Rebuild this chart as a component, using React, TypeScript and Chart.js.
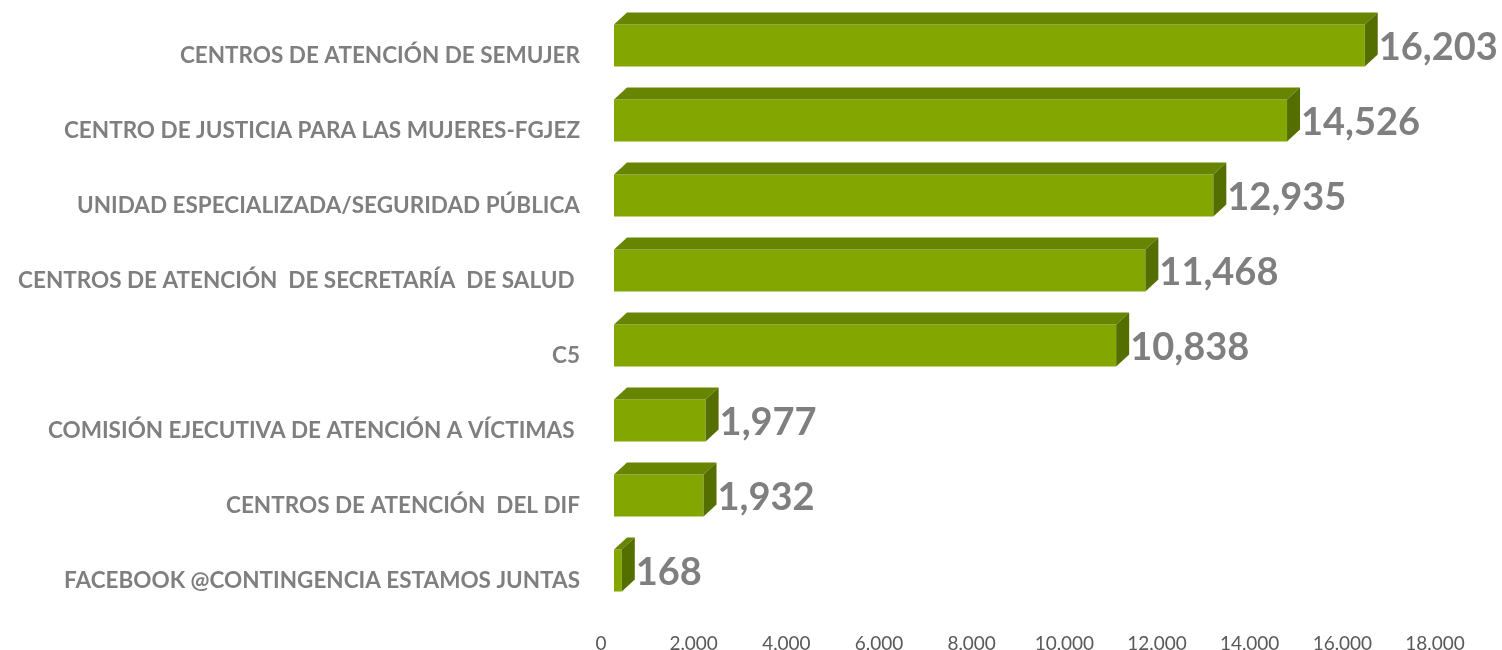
import React, { useEffect, useRef } from "react";
import { Chart, registerables } from "chart.js";

Chart.register(...registerables);

const categories = [
  "CENTROS DE ATENCIÓN DE SEMUJER",
  "CENTRO DE JUSTICIA PARA LAS MUJERES-FGJEZ",
  "UNIDAD ESPECIALIZADA/SEGURIDAD PÚBLICA",
  "CENTROS DE ATENCIÓN  DE SECRETARÍA  DE SALUD ",
  "C5",
  "COMISIÓN EJECUTIVA DE ATENCIÓN A VÍCTIMAS ",
  "CENTROS DE ATENCIÓN  DEL DIF",
  "FACEBOOK @CONTINGENCIA ESTAMOS JUNTAS",
];
const values = [16203, 14526, 12935, 11468, 10838, 1977, 1932, 168];
const axisMin = 0;
const axisMax = 18000;
const axisStep = 2000;

const FRONT = "#84A600";
const TOP = "#678500";
const SIDE = "#556E00";
const DX = 13;
const DY = 12;

const bar3d = {
  id: "bar3d",
  afterDatasetsDraw(chart: any) {
    const ctx = chart.ctx;
    const meta = chart.getDatasetMeta(0);
    meta.data.forEach((el: any, i: number) => {
      const { x, y, base, height } = el.getProps(["x", "y", "base", "height"], true);
      const top = y - height / 2;
      const bottom = y + height / 2;
      ctx.save();
      ctx.fillStyle = TOP;
      ctx.beginPath();
      ctx.moveTo(base, top);
      ctx.lineTo(x, top);
      ctx.lineTo(x + DX, top - DY);
      ctx.lineTo(base + DX, top - DY);
      ctx.closePath();
      ctx.fill();
      ctx.fillStyle = SIDE;
      ctx.beginPath();
      ctx.moveTo(x, top);
      ctx.lineTo(x + DX, top - DY);
      ctx.lineTo(x + DX, bottom - DY);
      ctx.lineTo(x, bottom);
      ctx.closePath();
      ctx.fill();
      ctx.fillStyle = "#7F7F7F";
      ctx.font = "bold 38px Lato";
      ctx.textAlign = "left";
      ctx.textBaseline = "middle";
      ctx.fillText(values[i].toLocaleString("en-US"), x + DX + 1, y + 2);
      ctx.restore();
    });
  },
};

export default function App() {
  const ref = useRef<HTMLCanvasElement>(null);
  useEffect(() => {
    if (!ref.current) return;
    const chart = new Chart(ref.current, {
      type: "bar",
      data: {
        labels: categories,
        datasets: [
          {
            data: values,
            backgroundColor: FRONT,
            borderWidth: 0,
            barPercentage: 0.56,
            categoryPercentage: 1,
          },
        ],
      },
      plugins: [bar3d],
      options: {
        indexAxis: "y",
        animation: false,
        responsive: false,
        maintainAspectRatio: false,
        layout: { padding: { top: 8, right: 54, left: 0, bottom: 0 } },
        plugins: { legend: { display: false }, tooltip: { enabled: false } },
        scales: {
          x: {
            min: axisMin,
            max: axisMax,
            grid: { display: false, drawTicks: false },
            border: { display: false },
            ticks: {
              stepSize: axisStep,
              padding: 24,
              labelOffset: -13,
              color: "#595959",
              font: { family: "Lato", size: 19 },
              callback: (v: any) => Number(v).toLocaleString("en-US"),
            },
            afterFit: (s: any) => {
              s.height = 42;
              s.paddingLeft = 0;
              s.paddingRight = 0;
            },
          },
          y: {
            grid: { display: false, drawTicks: false },
            border: { display: false },
            ticks: {
              padding: 34,
              labelOffset: 10,
              color: "#7F7F7F",
              font: { family: "Lato", size: 22.5, weight: "bold" },
              autoSkip: false,
            },
            afterFit: (s: any) => {
              s.width = 614;
              s.paddingTop = 0;
              s.paddingBottom = 0;
            },
          },
        },
      },
    });
    return () => chart.destroy();
  }, []);
  return (
    <div style={{ position: "fixed", left: 0, top: 0, width: 1502, height: 650, background: "#fff" }}>
      <canvas ref={ref} width={1502} height={650} style={{ width: 1502, height: 650 }} />
    </div>
  );
}
